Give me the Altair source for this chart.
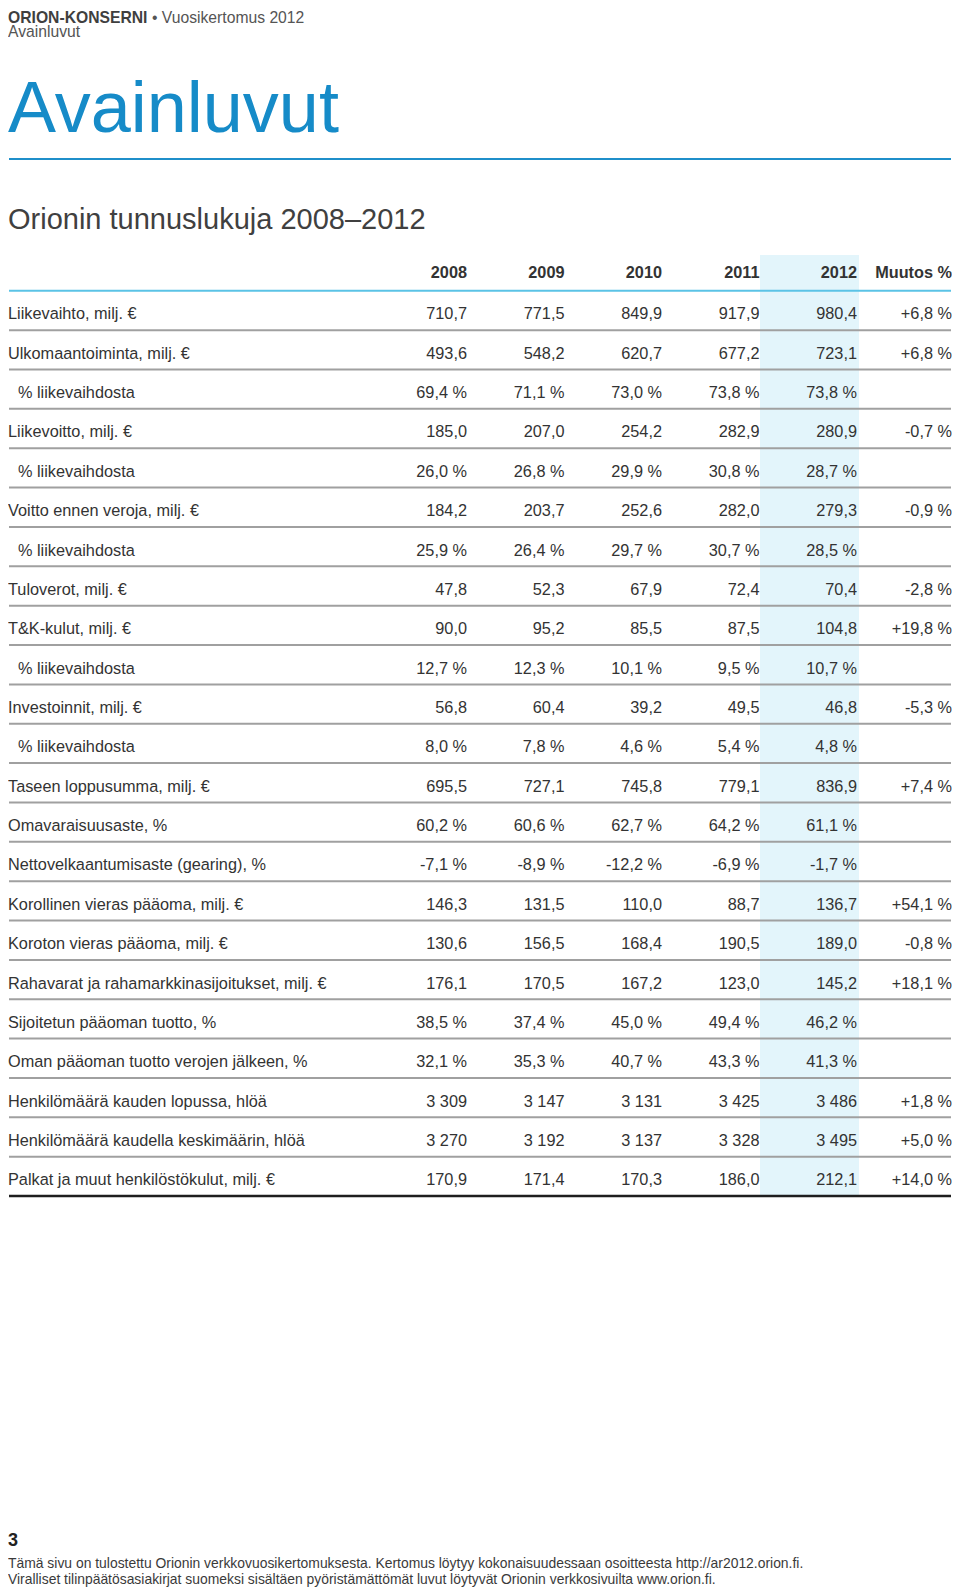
import altair as alt
import pandas as pd

FONT = "Liberation Sans"

labels = [
    "Liikevaihto, milj. €",
    "Ulkomaantoiminta, milj. €",
    "% liikevaihdosta",
    "Liikevoitto, milj. €",
    "% liikevaihdosta",
    "Voitto ennen veroja, milj. €",
    "% liikevaihdosta",
    "Tuloverot, milj. €",
    "T&K-kulut, milj. €",
    "% liikevaihdosta",
    "Investoinnit, milj. €",
    "% liikevaihdosta",
    "Taseen loppusumma, milj. €",
    "Omavaraisuusaste, %",
    "Nettovelkaantumisaste (gearing), %",
    "Korollinen vieras pääoma, milj. €",
    "Koroton vieras pääoma, milj. €",
    "Rahavarat ja rahamarkkinasijoitukset, milj. €",
    "Sijoitetun pääoman tuotto, %",
    "Oman pääoman tuotto verojen jälkeen, %",
    "Henkilömäärä kauden lopussa, hlöä",
    "Henkilömäärä kaudella keskimäärin, hlöä",
    "Palkat ja muut henkilöstökulut, milj. €",
]
sub_row = [False, False, True, False, True, False, True, False, False, True, False, True,
           False, False, False, False, False, False, False, False, False, False, False]

years = ["2008", "2009", "2010", "2011", "2012"]
change_header = "Muutos %"

v2008 = ["710,7", "493,6", "69,4 %", "185,0", "26,0 %", "184,2", "25,9 %", "47,8", "90,0", "12,7 %",
         "56,8", "8,0 %", "695,5", "60,2 %", "-7,1 %", "146,3", "130,6", "176,1", "38,5 %", "32,1 %",
         "3 309", "3 270", "170,9"]
v2009 = ["771,5", "548,2", "71,1 %", "207,0", "26,8 %", "203,7", "26,4 %", "52,3", "95,2", "12,3 %",
         "60,4", "7,8 %", "727,1", "60,6 %", "-8,9 %", "131,5", "156,5", "170,5", "37,4 %", "35,3 %",
         "3 147", "3 192", "171,4"]
v2010 = ["849,9", "620,7", "73,0 %", "254,2", "29,9 %", "252,6", "29,7 %", "67,9", "85,5", "10,1 %",
         "39,2", "4,6 %", "745,8", "62,7 %", "-12,2 %", "110,0", "168,4", "167,2", "45,0 %", "40,7 %",
         "3 131", "3 137", "170,3"]
v2011 = ["917,9", "677,2", "73,8 %", "282,9", "30,8 %", "282,0", "30,7 %", "72,4", "87,5", "9,5 %",
         "49,5", "5,4 %", "779,1", "64,2 %", "-6,9 %", "88,7", "190,5", "123,0", "49,4 %", "43,3 %",
         "3 425", "3 328", "186,0"]
v2012 = ["980,4", "723,1", "73,8 %", "280,9", "28,7 %", "279,3", "28,5 %", "70,4", "104,8", "10,7 %",
         "46,8", "4,8 %", "836,9", "61,1 %", "-1,7 %", "136,7", "189,0", "145,2", "46,2 %", "41,3 %",
         "3 486", "3 495", "212,1"]
muutos = ["+6,8 %", "+6,8 %", "", "-0,7 %", "", "-0,9 %", "", "-2,8 %", "+19,8 %", "", "-5,3 %", "",
          "+7,4 %", "", "", "+54,1 %", "-0,8 %", "+18,1 %", "", "", "+1,8 %", "+5,0 %", "+14,0 %"]

header_top = "ORION-KONSERNI"
header_rest = "• Vuosikertomus 2012"
header_sub = "Avainluvut"
big_title = "Avainluvut"
subtitle = "Orionin tunnuslukuja 2008–2012"
page_no = "3"
footer1 = ("Tämä sivu on tulostettu Orionin verkkovuosikertomuksesta. Kertomus löytyy "
           "kokonaisuudessaan osoitteesta http://ar2012.orion.fi.")
footer2 = ("Viralliset tilinpäätösasiakirjat suomeksi sisältäen pyöristämättömät luvut "
           "löytyvät Orionin verkkosivuilta www.orion.fi.")

# ---- tables built from the arrays ----
n = len(labels)
cells = []
for j, vals in enumerate([v2008, v2009, v2010, v2011, v2012]):
    for i, v in enumerate(vals):
        cells.append({"row": i, "col": j, "text": v})
cells_df = pd.DataFrame(cells)
change_df = pd.DataFrame({"row": list(range(n)), "text": muutos})
labels_df = pd.DataFrame({"row": list(range(n)), "label": labels, "sub": sub_row})
header_df = pd.DataFrame({"row": [-1.05] * len(years), "col": list(range(len(years))), "text": years})
change_head_df = pd.DataFrame({"row": [-1.05], "text": [change_header]})
lines_df = pd.DataFrame({"row": [i + 0.4 for i in range(n - 1)]})
last_df = pd.DataFrame({"row": [n - 1 + 0.4]})
head_line_df = pd.DataFrame({"row": [-0.6]})
one = pd.DataFrame({"a": [0]})

W, H = 944, 1579
ROW_H = 39.36
Y0 = 306.4
yscale = alt.Scale(domain=[0, n - 1], range=[Y0, Y0 + (n - 1) * ROW_H])
xscale = alt.Scale(domain=[0, 4], range=[459, 849])

Y = alt.Y("row:Q", scale=yscale, axis=None)
X = alt.X("col:Q", scale=xscale, axis=None)
X_CHANGE = alt.value(W)

TXT = "#333333"
FS = 16.3

band = alt.Chart(one).mark_rect(color="#e3f5fb").encode(
    x=alt.value(752), x2=alt.value(851), y=alt.value(247), y2=alt.value(1188)
)

row_lines = alt.Chart(lines_df).mark_rule(color="#a0a0a0", strokeWidth=2).encode(
    y=Y, x=alt.value(1), x2=alt.value(W - 1)
)
last_line = alt.Chart(last_df).mark_rule(color="#1e1e1e", strokeWidth=2.5).encode(
    y=Y, x=alt.value(1), x2=alt.value(W - 1)
)
head_line = alt.Chart(head_line_df).mark_rule(color="#5bc3e6", strokeWidth=2).encode(
    y=Y, x=alt.value(1), x2=alt.value(W - 1)
)

cell_text = alt.Chart(cells_df).mark_text(
    font=FONT, fontSize=FS, align="right", baseline="middle", color=TXT
).encode(x=X, y=Y, text="text:N")

change_text = alt.Chart(change_df).mark_text(
    font=FONT, fontSize=FS, align="right", baseline="middle", color=TXT
).encode(x=X_CHANGE, y=Y, text="text:N")

head_text = alt.Chart(header_df).mark_text(
    font=FONT, fontSize=FS, fontWeight="bold", align="right", baseline="middle", color=TXT
).encode(x=X, y=Y, text="text:N")

change_head = alt.Chart(change_head_df).mark_text(
    font=FONT, fontSize=FS, fontWeight="bold", align="right", baseline="middle", color=TXT
).encode(x=X_CHANGE, y=Y, text="text:N")

main_labels = alt.Chart(labels_df).transform_filter("!datum.sub").mark_text(
    font=FONT, fontSize=FS, align="left", baseline="middle", color=TXT
).encode(x=alt.value(0), y=Y, text="label:N")

sub_labels = alt.Chart(labels_df).transform_filter("datum.sub").mark_text(
    font=FONT, fontSize=FS, align="left", baseline="middle", color=TXT
).encode(x=alt.value(10), y=Y, text="label:N")


def static_text(txt, x, y, size, color, weight="normal", baseline="alphabetic"):
    return alt.Chart(one).mark_text(
        font=FONT, fontSize=size, fontWeight=weight, align="left", baseline=baseline, color=color
    ).encode(x=alt.value(x), y=alt.value(y), text=alt.value(txt))


t1 = static_text(header_top, 0, 3, 15.7, "#3f3f3f", "bold", baseline="top")
t2 = static_text(header_rest, 144, 3, 15.7, "#555555", baseline="top")
t3 = static_text(header_sub, 0, 29, 15.7, "#555555")
t4 = static_text(big_title, 0, 124, 72, "#168bc8")
blue_rule = alt.Chart(one).mark_rule(color="#1f8fca", strokeWidth=2).encode(
    x=alt.value(1), x2=alt.value(W - 1), y=alt.value(151)
)
t5 = static_text(subtitle, 0, 220.5, 29, "#404040")
t6 = static_text(page_no, 0, 1538, 18, "#222222", "bold")
t7 = static_text(footer1, 0, 1560, 13.9, "#3a3a3a")
t8 = static_text(footer2, 0, H, 13.9, "#3a3a3a", baseline="bottom")

chart = alt.layer(
    band, row_lines, last_line, head_line, cell_text, change_text, head_text, change_head,
    main_labels, sub_labels, t1, t2, t3, t4, blue_rule, t5, t6, t7, t8
).properties(
    width=W, height=H,
    autosize=alt.AutoSizeParams(type="none"),
    padding={"left": 0, "top": 0, "right": 0, "bottom": 0},
    background="white",
).configure_view(strokeWidth=0)

chart.save("out.html", embed_options={"renderer": "svg", "actions": False})
